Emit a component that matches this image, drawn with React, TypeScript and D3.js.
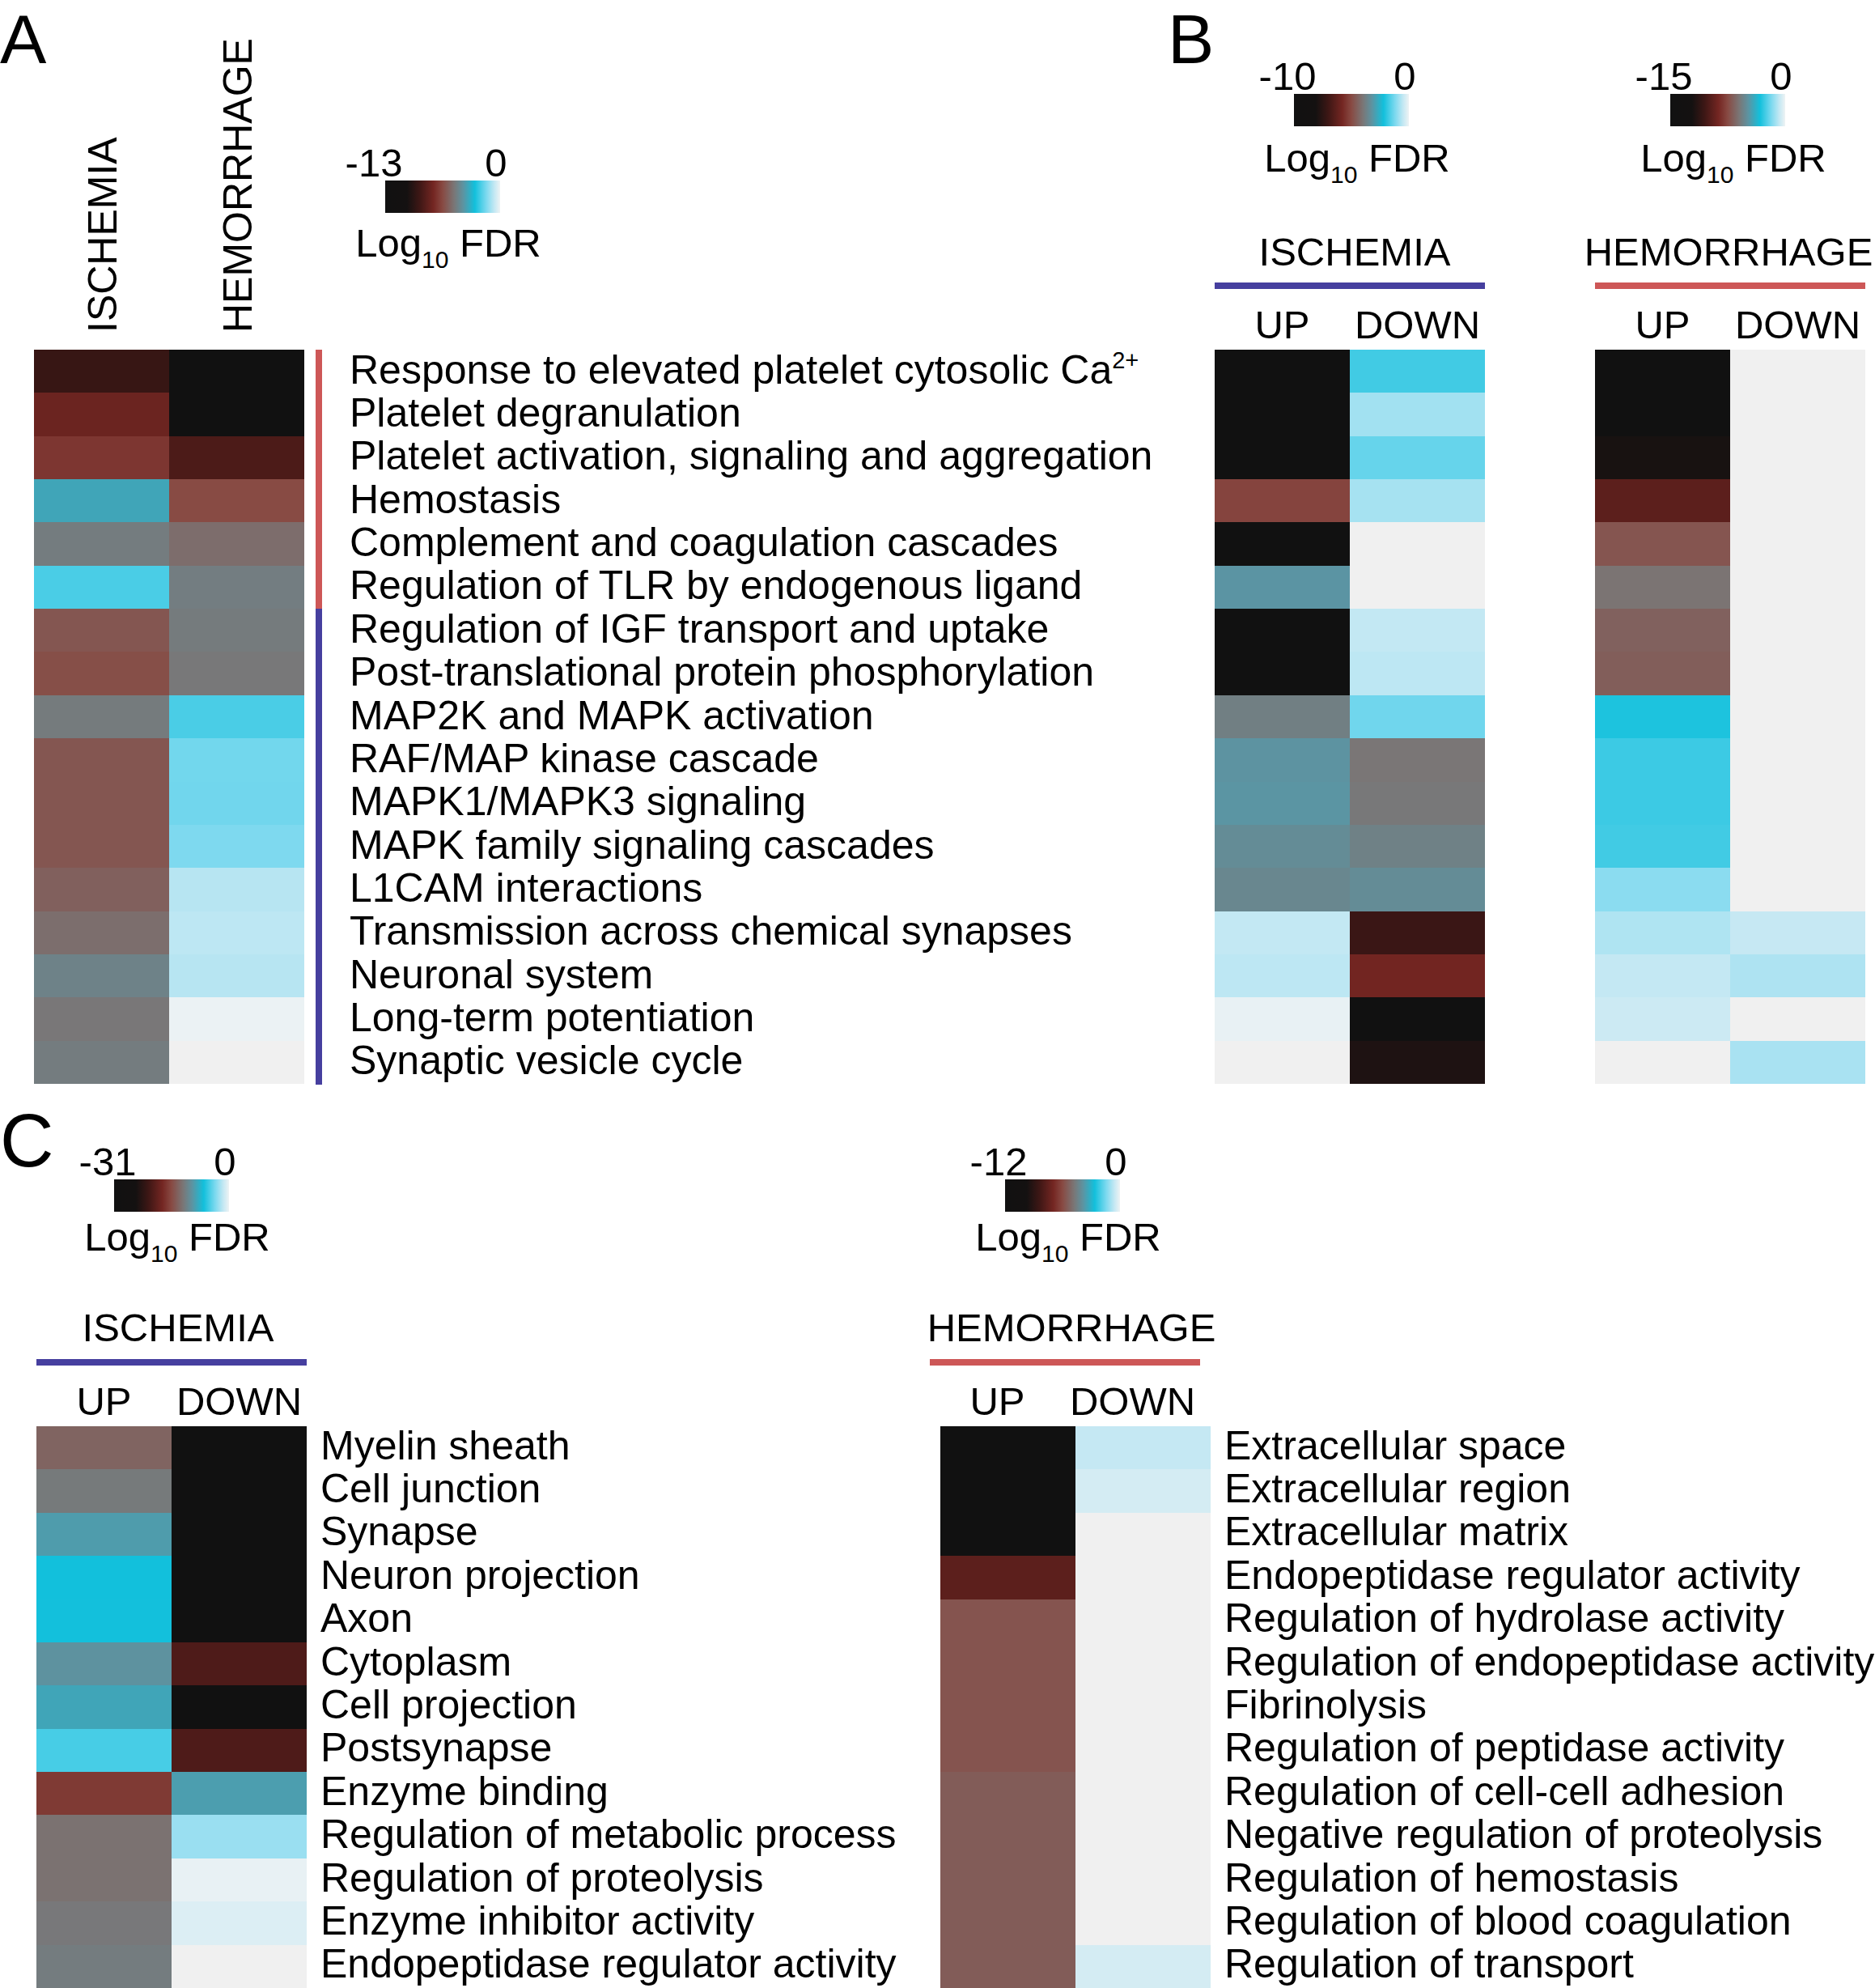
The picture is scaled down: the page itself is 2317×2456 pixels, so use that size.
import React from 'react';
import * as d3 from 'd3';

// ---------------- DATA ----------------
// Panel A: pathways (Reactome/KEGG)
const pathwaysA = [
  'Response to elevated platelet cytosolic Ca^2+',
  'Platelet degranulation',
  'Platelet activation, signaling and aggregation',
  'Hemostasis',
  'Complement and coagulation cascades',
  'Regulation of TLR by endogenous ligand',
  'Regulation of IGF transport and uptake',
  'Post-translational protein phosphorylation',
  'MAP2K and MAPK activation',
  'RAF/MAP kinase cascade',
  'MAPK1/MAPK3 signaling',
  'MAPK family signaling cascades',
  'L1CAM interactions',
  'Transmission across chemical synapses',
  'Neuronal system',
  'Long-term potentiation',
  'Synaptic vesicle cycle',
];
const pathwayGroupA = [
  'HEMORRHAGE', 'HEMORRHAGE', 'HEMORRHAGE', 'HEMORRHAGE', 'HEMORRHAGE', 'HEMORRHAGE',
  'ISCHEMIA', 'ISCHEMIA', 'ISCHEMIA', 'ISCHEMIA', 'ISCHEMIA', 'ISCHEMIA',
  'ISCHEMIA', 'ISCHEMIA', 'ISCHEMIA', 'ISCHEMIA', 'ISCHEMIA',
];
const conditionsA = ['ISCHEMIA', 'HEMORRHAGE'];
const ischemiaA = [-9.35, -7.8, -7.07, -3.67, -4.98, -2.17, -6.15, -6.36, -5.03, -6.15, -6.15, -6.15, -5.85, -5.43, -4.78, -5.16, -4.99];
const hemorrhageA = [-13, -13, -8.7, -6.47, -5.46, -4.95, -5.03, -5.14, -2.17, -1.68, -1.7, -1.53, -0.82, -0.74, -0.82, -0.05, null];
const scaleMinA = -13;

// Panel B: same pathways, split by direction
const directions = ['UP', 'DOWN'];
const ischemiaUpB = [-10, -10, -10, -5.13, -10, -3.19, -10, -10, -3.76, -3.22, -3.18, -3.41, -3.55, -0.51, -0.57, -0.07, null];
const ischemiaDownB = [-1.76, -0.83, -1.41, -0.79, null, null, -0.51, -0.57, -1.31, -4.0, -3.95, -3.7, -3.42, -7.1, -5.85, -10, -7.84];
const hemorrhageUpB = [-15, -15, -12, -9.5, -7.13, -6.08, -6.72, -6.83, -3.14, -2.7, -2.7, -2.63, -1.58, -1.05, -0.75, -0.6, null];
const hemorrhageDownB = [null, null, null, null, null, null, null, null, null, null, null, null, null, -0.72, -1.07, null, -1.14];
const scaleMinIschemiaB = -10;
const scaleMinHemorrhageB = -15;

// Panel C: GO terms
const goTermsIschemia = [
  'Myelin sheath',
  'Cell junction',
  'Synapse',
  'Neuron projection',
  'Axon',
  'Cytoplasm',
  'Cell projection',
  'Postsynapse',
  'Enzyme binding',
  'Regulation of metabolic process',
  'Regulation of proteolysis',
  'Enzyme inhibitor activity',
  'Endopeptidase regulator activity',
];
const ischemiaUpC = [-13.7, -12.1, -9.36, -6.82, -6.79, -10.1, -8.74, -5.27, -16.6, -12.7, -12.7, -12.2, -11.9];
const ischemiaDownC = [-31, -31, -31, -31, -31, -20.6, -31, -20.6, -9.24, -2.82, -0.22, -0.65, null];
const scaleMinIschemiaC = -31;

const goTermsHemorrhage = [
  'Extracellular space',
  'Extracellular region',
  'Extracellular matrix',
  'Endopeptidase regulator activity',
  'Regulation of hydrolase activity',
  'Regulation of endopeptidase activity',
  'Fibrinolysis',
  'Regulation of peptidase activity',
  'Regulation of cell-cell adhesion',
  'Negative regulation of proteolysis',
  'Regulation of hemostasis',
  'Regulation of blood coagulation',
  'Regulation of transport',
];
const hemorrhageUpC = [-12, -12, -12, -7.6, -5.72, -5.72, -5.72, -5.72, -5.51, -5.51, -5.51, -5.51, -5.51];
const hemorrhageDownC = [-0.58, -0.37, null, null, null, null, null, null, null, null, null, null, -0.37];
const scaleMinHemorrhageC = -12;

// colour ramp: fraction along the bar (0 = min, 1 = 0)
const STOP_FRACTIONS = [0, 0.19, 0.3, 0.42, 0.5, 0.6, 0.68, 0.78, 0.88, 0.95, 1];
const STOP_COLORS = ['#111111', '#141111', '#3e1715', '#742622', '#884a43', '#7a7676', '#5c94a2', '#12c0dc', '#7cd9ef', '#c4e8f3', '#eef3f4'];

// ---------------- STYLE / LAYOUT ----------------
const FONT = '"Liberation Sans", Arial, Helvetica, sans-serif';
const NA_FILL = '#f0f0f0';
const BLUE = '#463f9f';
const RED = '#cd5757';
const W = 2317;
const H = 2456;
const FS = 49;
const LABEL_FS = 50;

type Val = number | null;

function rampColor(min: number) {
  return d3
    .scaleLinear<string>()
    .domain(STOP_FRACTIONS.map((f) => min * (1 - f)))
    .range(STOP_COLORS)
    .interpolate(d3.interpolateRgb)
    .clamp(true);
}

function Heatmap({ x, y, width, height, columns, min }: { x: number; y: number; width: number; height: number; columns: Val[][]; min: number }) {
  const nRows = columns[0].length;
  const xs = d3.scaleBand<number>().domain(d3.range(columns.length)).range([x, x + width]);
  const ys = d3.scaleBand<number>().domain(d3.range(nRows)).range([y, y + height]);
  const color = rampColor(min);
  return (
    <g shapeRendering="crispEdges">
      {columns.map((col, ci) =>
        col.map((v, ri) => (
          <rect
            key={`${ci}-${ri}`}
            x={xs(ci)}
            y={ys(ri)}
            width={xs.bandwidth() + (ci < columns.length - 1 ? 0.6 : 0)}
            height={ys.bandwidth() + (ri < nRows - 1 ? 0.6 : 0)}
            fill={v == null ? NA_FILL : color(v)}
          />
        ))
      )}
    </g>
  );
}

function ColorBar({ id, x, y, w, h, min, leftDx = -8, logDy = 54 }: { id: string; x: number; y: number; w: number; h: number; min: number; leftDx?: number; logDy?: number }) {
  return (
    <g>
      <defs>
        <linearGradient id={id} x1="0" x2="1" y1="0" y2="0">
          {STOP_FRACTIONS.map((f, i) => (
            <stop key={i} offset={f} stopColor={STOP_COLORS[i]} />
          ))}
        </linearGradient>
      </defs>
      <rect x={x} y={y} width={w} height={h} fill={`url(#${id})`} />
      <text x={x + leftDx} y={y - 5} textAnchor="middle" fontSize={FS}>{String(min)}</text>
      <text x={x + w - 5} y={y - 5} textAnchor="middle" fontSize={FS}>0</text>
      <text x={x + w / 2 + 7} y={y + h + logDy} textAnchor="middle" fontSize={FS}>
        Log<tspan fontSize={30} dy={14}>10</tspan>
        <tspan dy={-14}> FDR</tspan>
      </text>
    </g>
  );
}

function Label({ x, y, text }: { x: number; y: number; text: string }) {
  const [main, sup] = text.split('^');
  return (
    <text x={x} y={y} fontSize={LABEL_FS}>
      {main}
      {sup ? (
        <tspan fontSize={29} dy={-19}>{sup}</tspan>
      ) : null}
    </text>
  );
}

function Header({ x, width, title, color, titleY, lineY, dirY, dx = 0, titleDx = 0 }: { x: number; width: number; title: string; color: string; titleY: number; lineY: number; dirY: number; dx?: number; titleDx?: number }) {
  const xs = d3.scaleBand<string>().domain(directions).range([x + dx, x + dx + width]);
  return (
    <g>
      <text x={x + dx + width / 2 + titleDx} y={titleY} textAnchor="middle" fontSize={FS}>{title}</text>
      <rect x={x + dx} y={lineY} width={width} height={8} fill={color} />
      {directions.map((d) => (
        <text key={d} x={(xs(d) as number) + xs.bandwidth() / 2} y={dirY} textAnchor="middle" fontSize={FS}>{d}</text>
      ))}
    </g>
  );
}

export default function App() {
  // Panel A geometry
  const aTop = 432, aBottom = 1339;
  const aX = 42, aW = 334;
  const rowsA = d3.scaleBand<number>().domain(d3.range(pathwaysA.length)).range([aTop, aBottom]);
  const colsA = d3.scaleBand<string>().domain(conditionsA).range([aX, aX + aW]);

  // Panel C geometry
  const cTop = 1762, cBottom = 2456;
  const rowsC = d3.scaleBand<number>().domain(d3.range(goTermsIschemia.length)).range([cTop, cBottom]);

  const c1X = 45, c2X = 1162, hmW = 334;
  const b1X = 1501, b2X = 1971;

  return (
    <svg
      width={W}
      height={H}
      viewBox={`0 0 ${W} ${H}`}
      style={{ position: 'absolute', left: 0, top: 0, background: '#fff' }}
      fontFamily={FONT}
      fill="#000"
    >
      <rect x={0} y={0} width={W} height={H} fill="#fff" />

      {/* ---------- Panel A ---------- */}
      <text x={0} y={78} fontSize={86}>A</text>
      {conditionsA.map((c) => (
        <text
          key={c}
          transform={`translate(${(colsA(c) as number) + colsA.bandwidth() / 2 + 18},411) rotate(-90)`}
          fontSize={50}
        >
          {c}
        </text>
      ))}
      <ColorBar id="gA" x={476} y={223} w={142} h={40} min={scaleMinA} leftDx={-14} logDy={54} />
      <Heatmap x={aX} y={aTop} width={aW} height={aBottom - aTop} columns={[ischemiaA, hemorrhageA]} min={scaleMinA} />
      {pathwayGroupA.map((g, i) => (
        <rect
          key={i}
          x={390}
          y={rowsA(i)}
          width={8}
          height={rowsA.bandwidth() + 0.6}
          fill={g === 'HEMORRHAGE' ? RED : BLUE}
          shapeRendering="crispEdges"
        />
      ))}
      {pathwaysA.map((p, i) => (
        <Label key={p} x={432} y={(rowsA(i) as number) + rowsA.bandwidth() / 2 + 15} text={p} />
      ))}

      {/* ---------- Panel B ---------- */}
      <text x={1443} y={78} fontSize={86}>B</text>
      <ColorBar id="gB1" x={1599} y={116} w={142} h={40} min={scaleMinIschemiaB} logDy={56} />
      <ColorBar id="gB2" x={2064} y={116} w={142} h={40} min={scaleMinHemorrhageB} logDy={56} />
      <Header x={b1X} width={hmW} title="ISCHEMIA" color={BLUE} titleY={328} lineY={349} dirY={418} titleDx={6} />
      <Header x={b2X} width={hmW} title="HEMORRHAGE" color={RED} titleY={328} lineY={349} dirY={418} titleDx={-2} />
      <Heatmap x={b1X} y={aTop} width={hmW} height={aBottom - aTop} columns={[ischemiaUpB, ischemiaDownB]} min={scaleMinIschemiaB} />
      <Heatmap x={b2X} y={aTop} width={hmW} height={aBottom - aTop} columns={[hemorrhageUpB, hemorrhageDownB]} min={scaleMinHemorrhageB} />

      {/* ---------- Panel C ---------- */}
      <text x={0} y={1441} fontSize={92}>C</text>
      <ColorBar id="gC1" x={141} y={1457} w={142} h={40} min={scaleMinIschemiaC} logDy={48} />
      <ColorBar id="gC2" x={1242} y={1457} w={142} h={40} min={scaleMinHemorrhageC} logDy={48} />
      <Header x={c1X} width={hmW} title="ISCHEMIA" color={BLUE} titleY={1657} lineY={1679} dirY={1748} titleDx={8} />
      <Header x={c2X} width={hmW} title="HEMORRHAGE" color={RED} titleY={1657} lineY={1679} dirY={1748} dx={-13} titleDx={8} />
      <Heatmap x={c1X} y={cTop} width={hmW} height={cBottom - cTop} columns={[ischemiaUpC, ischemiaDownC]} min={scaleMinIschemiaC} />
      <Heatmap x={c2X} y={cTop} width={hmW} height={cBottom - cTop} columns={[hemorrhageUpC, hemorrhageDownC]} min={scaleMinHemorrhageC} />
      {goTermsIschemia.map((t, i) => (
        <Label key={t} x={396} y={(rowsC(i) as number) + rowsC.bandwidth() / 2 + 14} text={t} />
      ))}
      {goTermsHemorrhage.map((t, i) => (
        <Label key={t} x={1513} y={(rowsC(i) as number) + rowsC.bandwidth() / 2 + 14} text={t} />
      ))}
    </svg>
  );
}
